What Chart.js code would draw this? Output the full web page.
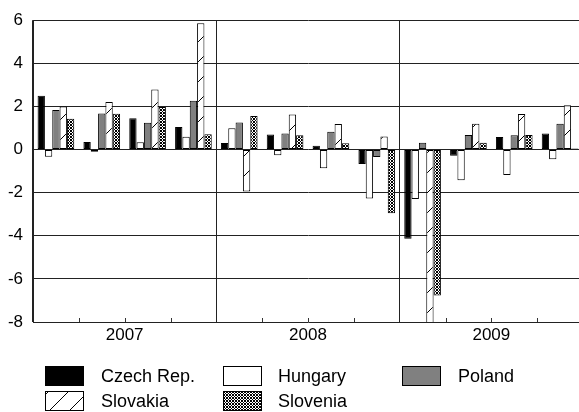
<!DOCTYPE html>
<html>
<head>
<meta charset="utf-8">
<script src="https://cdn.jsdelivr.net/npm/chart.js@4.4.0/dist/chart.umd.min.js"></script>
<style>
    html, body { margin: 0; padding: 0; background: #fff; overflow: hidden; }
    #wrap { width: 579px; height: 412px; overflow: hidden; }
    canvas { display: block; }
</style>
</head>
<body>
<div id="wrap"><canvas id="chart" width="583" height="412"></canvas></div>
<script>
// Quarterly values, 2007 Q1 .. 2009 Q4
const quarters = ['2007 Q1', '2007 Q2', '2007 Q3', '2007 Q4',
                  '2008 Q1', '2008 Q2', '2008 Q3', '2008 Q4',
                  '2009 Q1', '2009 Q2', '2009 Q3', '2009 Q4'];
const years = ['2007', '2008', '2009'];

const czech    = [2.5, 0.35, 1.45, 1.05, 0.3, 0.7, 0.18, -0.67, -4.14, -0.29, 0.58, 0.74];
const hungary  = [-0.33, -0.1, 0.34, 0.59, 0.99, -0.26, -0.87, -2.27, -2.29, -1.43, -1.18, -0.45];
const poland   = [1.84, 1.67, 1.24, 2.26, 1.25, 0.75, 0.82, -0.35, 0.32, 0.68, 0.66, 1.2];
const slovakia = [2.0, 2.2, 2.78, 5.86, -1.95, 1.63, 1.19, 0.61, -8.8, 1.2, 1.65, 2.05];
const slovenia = [1.43, 1.66, 1.97, 0.71, 1.56, 0.66, 0.29, -2.95, -6.77, 0.32, 0.68, 0.05];

const yTicks = [-8, -6, -4, -2, 0, 2, 4, 6];

const FONT = "'Liberation Sans', Arial, sans-serif";
const ctx = document.getElementById('chart').getContext('2d');

// diagonal "/" hatch for Slovakia
function makeHatch() {
    const c = document.createElement('canvas');
    c.width = 20; c.height = 20;
    const g = c.getContext('2d');
    g.fillStyle = '#fff';
    g.fillRect(0, 0, 20, 20);
    g.strokeStyle = '#000';
    g.lineWidth = 1;
    g.beginPath();
    g.moveTo(-1, 21);
    g.lineTo(21, -1);
    g.stroke();
    return ctx.createPattern(c, 'repeat');
}

// fine cross-hatch for Slovenia
function makeCross() {
    const c = document.createElement('canvas');
    c.width = 3; c.height = 3;
    const g = c.getContext('2d');
    g.fillStyle = '#fff';
    g.fillRect(0, 0, 3, 3);
    g.fillStyle = '#000';
    for (let x = 0; x < 3; x++) {
        for (let y = 0; y < 3; y++) {
            if ((x + y) % 3 === 0 || (x - y + 3) % 3 === 0) g.fillRect(x, y, 1, 1);
        }
    }
    return ctx.createPattern(c, 'repeat');
}

function makeDataset(label, values, fill) {
    return {
        label: label,
        data: values,
        backgroundColor: fill,
        borderColor: '#000',
        borderWidth: 1,
        borderSkipped: false,
        xAxisID: 'x',
        yAxisID: 'y'
    };
}

// small inside ticks at quarter boundaries
const quarterTicks = {
    id: 'quarterTicks',
    afterDatasetsDraw(chart) {
        const xs = chart.scales.x;
        const bottom = chart.chartArea.bottom;
        const c = chart.ctx;
        c.save();
        c.strokeStyle = '#333';
        c.lineWidth = 1;
        for (let i = 1; i < quarters.length; i++) {
            if (i % 4 === 0) continue;
            const px = Math.round((xs.getPixelForValue(i - 1) + xs.getPixelForValue(i)) / 2) + 0.5;
            c.beginPath();
            c.moveTo(px, bottom);
            c.lineTo(px, bottom - 4);
            c.stroke();
        }
        c.restore();
    }
};

// legend drawn in two rows under the axis
const legendItems = [
    { idx: 0, bx: 45,  by: 366, tx: 101 },
    { idx: 1, bx: 223, by: 366, tx: 278 },
    { idx: 2, bx: 402, by: 366, tx: 458 },
    { idx: 3, bx: 45,  by: 391, tx: 101 },
    { idx: 4, bx: 223, by: 391, tx: 278 }
];

const customLegend = {
    id: 'customLegend',
    afterDraw(chart) {
        const c = chart.ctx;
        c.save();
        c.font = '18px ' + FONT;
        c.textBaseline = 'middle';
        c.fillStyle = '#000';
        legendItems.forEach(item => {
            const ds = chart.data.datasets[item.idx];
            c.fillStyle = ds.backgroundColor;
            c.fillRect(item.bx, item.by, 38, 19);
            c.strokeStyle = '#000';
            c.lineWidth = 1;
            c.strokeRect(item.bx + 0.5, item.by + 0.5, 38, 19);
            c.fillStyle = '#000';
            c.fillText(ds.label, item.tx, item.by + 11);
        });
        c.restore();
    }
};

const chart = new Chart(ctx, {
    type: 'bar',
    data: {
        labels: quarters,
        datasets: [
            makeDataset('Czech Rep.', czech, '#000'),
            makeDataset('Hungary', hungary, '#fff'),
            makeDataset('Poland', poland, '#808080'),
            makeDataset('Slovakia', slovakia, makeHatch()),
            makeDataset('Slovenia', slovenia, makeCross())
        ]
    },
    options: {
        responsive: false,
        animation: false,
        devicePixelRatio: 1,
        layout: { padding: { top: 18, left: 0, right: 0, bottom: 0 } },
        datasets: {
            bar: { categoryPercentage: 0.8, barPercentage: 1.0 }
        },
        plugins: {
            legend: { display: false },
            tooltip: { enabled: false }
        },
        scales: {
            x: {
                type: 'category',
                display: false,
                offset: true
            },
            x2: {
                type: 'category',
                labels: years,
                position: 'bottom',
                offset: true,
                grid: {
                    display: true,
                    offset: true,
                    drawOnChartArea: true,
                    drawTicks: false,
                    color: '#222',
                    lineWidth: 1
                },
                border: { display: false },
                ticks: {
                    color: '#000',
                    font: { family: FONT, size: 17 },
                    padding: 3,
                    maxRotation: 0
                },
                afterFit(scale) { scale.height = 90; }
            },
            y: {
                min: -8,
                max: 6,
                afterBuildTicks(scale) {
                    scale.ticks = yTicks.map(v => ({ value: v }));
                },
                grid: {
                    color: '#222',
                    lineWidth: 1,
                    drawTicks: false
                },
                border: { display: true, color: '#222', width: 1 },
                ticks: {
                    color: '#000',
                    font: { family: FONT, size: 17 },
                    padding: 10
                },
                afterFit(scale) { scale.width = 33; }
            }
        }
    },
    plugins: [quarterTicks, customLegend]
});
</script>
</body>
</html>
